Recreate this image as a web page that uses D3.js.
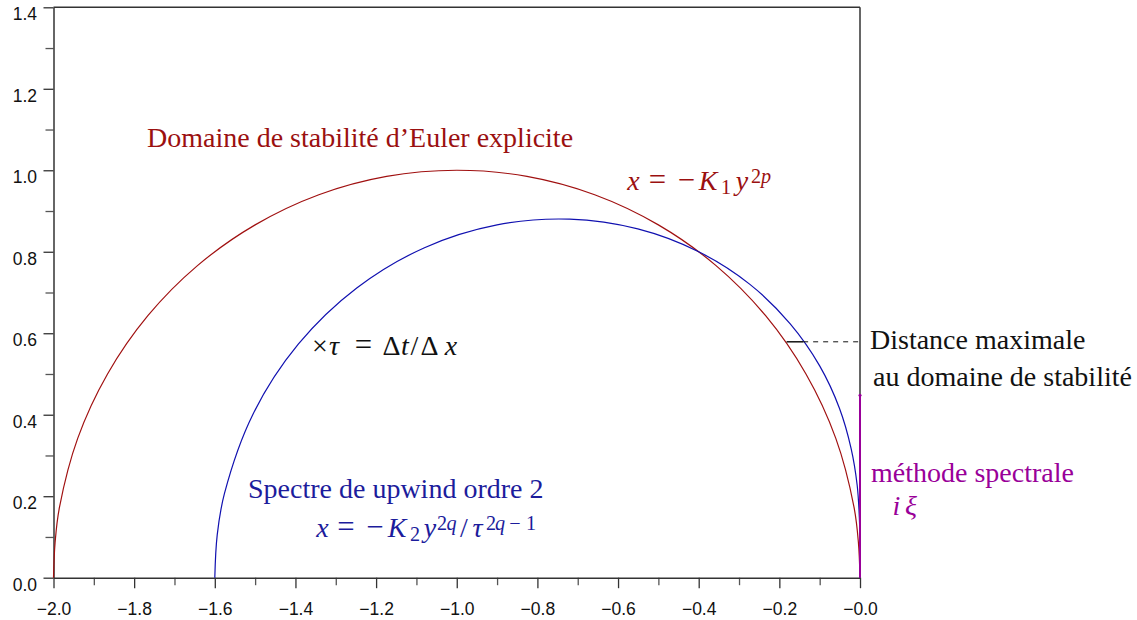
<!DOCTYPE html>
<html><head><meta charset="utf-8">
<script src="https://cdn.jsdelivr.net/npm/d3@7"></script>
<style>body{margin:0;background:#fff}svg{display:block}</style>
</head><body><svg id="c" width="1137" height="620"></svg>
<script>
// ---- data ----
const xTicks = [-2.0,-1.8,-1.6,-1.4,-1.2,-1.0,-0.8,-0.6,-0.4,-0.2,0.0];
const xTickLabels = ["−2.0","−1.8","−1.6","−1.4","−1.2","−1.0","−0.8","−0.6","−0.4","−0.2","−0.0"];
const yTicks = [0.0,0.2,0.4,0.6,0.8,1.0,1.2,1.4];
const yTickLabels = ["0.0","0.2","0.4","0.6","0.8","1.0","1.2","1.4"];
const xMinor = [-1.9,-1.7,-1.5,-1.3,-1.1,-0.9,-0.7,-0.5,-0.3,-0.1];
const yMinor = [0.1,0.3,0.5,0.7,0.9,1.1,1.3];
// Euler explicit stability domain (red)
const eulerX = [-2.0,-1.996,-1.985,-1.940,-1.866,-1.766,-1.643,-1.5,-1.342,-1.174,-1.0,-0.826,-0.658,-0.5,-0.357,-0.234,-0.134,-0.060,-0.015,-0.004,0.0];
const eulerY = [0.0,0.087,0.174,0.342,0.500,0.643,0.766,0.866,0.940,0.985,1.0,0.985,0.940,0.866,0.766,0.643,0.500,0.342,0.174,0.087,0.0];
// upwind order 2 spectrum (blue)
const upwX = [-1.6,-1.594,-1.576,-1.505,-1.393,-1.248,-1.080,-0.900,-0.720,-0.551,-0.400,-0.273,-0.173,-0.100,-0.051,-0.022,-0.007,-0.0015,-0.0001,0.0];
const upwY = [0.0,0.105,0.207,0.402,0.573,0.711,0.810,0.866,0.880,0.856,0.800,0.720,0.623,0.520,0.416,0.317,0.227,0.145,0.071,0.0];
// spectral method segment (magenta)
const specX = [0.0,0.0];
const specY = [0.0,0.448];
// max distance marker
const distY = 0.579;
const distXRed = -0.182, distXBlue = -0.141, distXEnd = 0.0;

const svg = d3.select("#c");
const x = d3.scaleLinear().domain([-2,0]).range([53.5,860]);
const y = d3.scaleLinear().domain([0,1.4]).range([577.7,7.3]);

const axisCol = "#333";
const tickFont = "Liberation Sans", tickSize = 17.5;
// minor ticks
svg.append("g").attr("transform",`translate(0,${y(0)})`)
  .call(d3.axisBottom(x).tickValues(xMinor).tickSize(7.5).tickFormat(""))
  .call(g=>{g.select(".domain").remove();g.selectAll("line").attr("stroke","#555").attr("stroke-width",1.3);});
svg.append("g").attr("transform",`translate(${x(-2)},0)`)
  .call(d3.axisLeft(y).tickValues(yMinor).tickSize(8).tickFormat(""))
  .call(g=>{g.select(".domain").remove();g.selectAll("line").attr("stroke","#555").attr("stroke-width",1.3);});
// major
svg.append("g").attr("transform",`translate(0,${y(0)})`)
  .call(d3.axisBottom(x).tickValues(xTicks).tickSize(10.5).tickSizeOuter(0).tickPadding(14).tickFormat((d,i)=>xTickLabels[i]))
  .call(g=>{g.select(".domain").attr("stroke",axisCol).attr("stroke-width",1.5);
    g.selectAll("line").attr("stroke",axisCol).attr("stroke-width",1.3);
    g.selectAll("text").attr("font-family",tickFont).attr("font-size",tickSize).attr("fill","#111");});
svg.append("g").attr("transform",`translate(${x(-2)},0)`)
  .call(d3.axisLeft(y).tickValues(yTicks).tickSize(10).tickSizeOuter(0).tickPadding(6.5).tickFormat((d,i)=>yTickLabels[i]))
  .call(g=>{g.select(".domain").attr("stroke",axisCol).attr("stroke-width",1.5);
    g.selectAll("line").attr("stroke",axisCol).attr("stroke-width",1.3);
    g.selectAll("text").attr("font-family",tickFont).attr("font-size",tickSize).attr("fill","#111").attr("dy","0.71em");});
// top & right frame
svg.append("line").attr("x1",x(-2)).attr("x2",x(0)).attr("y1",y(1.4)).attr("y2",y(1.4)).attr("stroke",axisCol).attr("stroke-width",1.5);
svg.append("line").attr("x1",x(0)).attr("x2",x(0)).attr("y1",y(1.4)).attr("y2",y(0)).attr("stroke",axisCol).attr("stroke-width",1.5);

const line = d3.line().x(d=>x(d[0])).y(d=>y(d[1])).curve(d3.curveCatmullRom.alpha(0.5));
svg.append("path").attr("d",line(eulerX.map((v,i)=>[v,eulerY[i]]))).attr("fill","none").attr("stroke","#a01010").attr("stroke-width",1.2);
svg.append("path").attr("d",line(upwX.map((v,i)=>[v,upwY[i]]))).attr("fill","none").attr("stroke","#1010b0").attr("stroke-width",1.2);
svg.append("path").attr("d",d3.line().x(d=>x(d[0])).y(d=>y(d[1]))(specX.map((v,i)=>[v,specY[i]]))).attr("fill","none").attr("stroke","#990099").attr("stroke-width",2);
svg.append("circle").attr("cx",x(specX[1])).attr("cy",y(specY[1])).attr("r",1.5).attr("fill","#990099");

svg.append("line").attr("x1",x(distXRed)).attr("x2",x(distXBlue)).attr("y1",y(distY)).attr("y2",y(distY)).attr("stroke","#111").attr("stroke-width",1.5);
svg.append("line").attr("x1",x(distXBlue)).attr("x2",x(distXEnd)).attr("y1",y(distY)).attr("y2",y(distY)).attr("stroke","#111").attr("stroke-width",1).attr("stroke-dasharray","5,5");

// ---- texts ----
const serif = "Liberation Serif";
function txt(xp, yp, color, size, s){
  svg.append("text").attr("x",xp).attr("y",yp).attr("fill",color).attr("font-family",serif).attr("font-size",size).text(s);
}
// math: each glyph centred at its own x; level: 0 base, 1 superscript, -1 subscript; o: operator (slightly larger)
function math(yp, color, size, parts){
  const t = svg.append("text").attr("fill",color).attr("font-family",serif).attr("font-size",size).attr("text-anchor","middle");
  parts.forEach(p=>{
    const lv = p.l||0;
    const s = t.append("tspan").attr("x",p.x).attr("y", yp + (lv===1?-7.5:lv===-1?3.5:0)).text(p.t);
    if(p.i) s.attr("font-style","italic");
    if(lv!==0) s.attr("font-size",size*0.72);
    else if(p.o) s.attr("font-size",size*1.1);
  });
}
const red="#9b1010", blue="#1c1c9c", mag="#990099";
txt(147,147,red,28,"Domaine de stabilité d’Euler explicite");
math(190,red,28,[{t:"x",i:1,x:633.5},{t:"=",o:1,x:657.5},{t:"−",o:1,x:686.5},{t:"K",i:1,x:708},{t:"1",l:-1,x:726},
  {t:"y",i:1,x:742},{t:"2",l:1,x:756},{t:"p",i:1,l:1,x:766}]);
math(355,"#111",28,[{t:"×",x:320},{t:"τ",i:1,x:334},{t:"=",o:1,x:363.5},{t:"Δ",x:391.5},{t:"t",i:1,x:405},
  {t:"/",x:414.5},{t:"Δ",x:429.5},{t:"x",i:1,x:451}]);
txt(248,498,blue,28,"Spectre de upwind ordre 2");
math(537,blue,28,[{t:"x",i:1,x:322.5},{t:"=",o:1,x:346},{t:"−",o:1,x:375},{t:"K",i:1,x:397},{t:"2",l:-1,x:415},
  {t:"y",i:1,x:430},{t:"2",l:1,x:442},{t:"q",i:1,l:1,x:451.5},{t:"/",x:464},{t:"τ",i:1,x:477.5},
  {t:"2",l:1,x:491},{t:"q",i:1,l:1,x:500},{t:"−",l:1,x:515},{t:"1",l:1,x:531}]);
txt(870,349,"#111",28,"Distance maximale");
txt(873,386,"#111",28,"au domaine de stabilité");
txt(871,482,mag,28,"méthode spectrale");
math(515,mag,28,[{t:"i",i:1,x:896.5},{t:"ξ",i:1,x:911}]);
</script></body></html>
